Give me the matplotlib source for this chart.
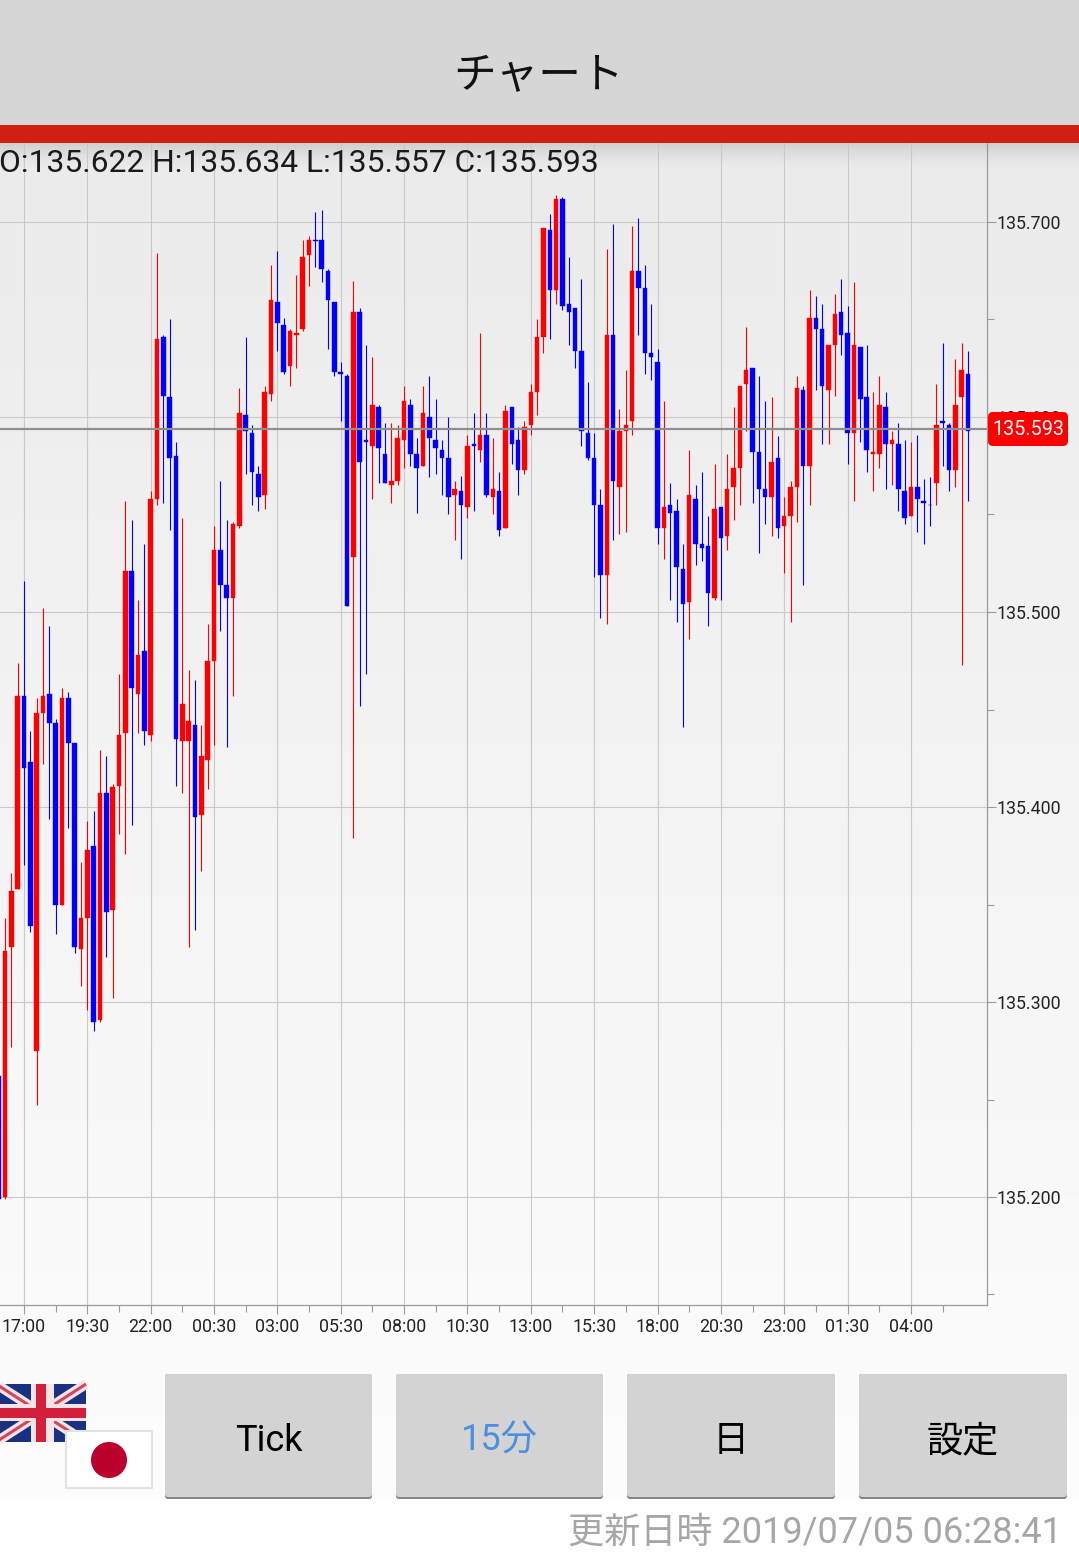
import numpy as np
import matplotlib
matplotlib.use("Agg")
import matplotlib.pyplot as plt
from matplotlib.colors import LinearSegmentedColormap
from matplotlib.patches import FancyBboxPatch, Rectangle, Circle

plt.rcParams['font.family'] = ['Roboto', 'Noto Sans CJK JP', 'DejaVu Sans']

# 15 minute candles, oldest first (first four are left of the 17:00 tick)
opens = [135.262, 135.200, 135.328, 135.358, 135.457, 135.423, 135.275, 135.448, 135.458, 135.443,
         135.350, 135.456, 135.433, 135.327, 135.343, 135.380, 135.291, 135.407, 135.347, 135.411,
         135.438, 135.521, 135.458, 135.480, 135.437, 135.558, 135.641, 135.610, 135.580, 135.434,
         135.434, 135.442, 135.396, 135.424, 135.475, 135.532, 135.514, 135.507, 135.544, 135.601,
         135.592, 135.571, 135.560, 135.612, 135.659, 135.647, 135.626, 135.642, 135.645, 135.683,
         135.691, 135.691, 135.675, 135.659, 135.623, 135.621, 135.528, 135.654, 135.588, 135.585,
         135.605, 135.581, 135.565, 135.567, 135.588, 135.606, 135.581, 135.575, 135.600, 135.588,
         135.583, 135.579, 135.560, 135.562, 135.554, 135.586, 135.583, 135.591, 135.559, 135.562,
         135.543, 135.605, 135.588, 135.573, 135.596, 135.613, 135.641, 135.696, 135.665, 135.712,
         135.658, 135.656, 135.634, 135.592, 135.579, 135.555, 135.519, 135.642, 135.564, 135.593,
         135.598, 135.675, 135.666, 135.633, 135.628, 135.543, 135.555, 135.552, 135.522, 135.505,
         135.558, 135.535, 135.534, 135.507, 135.554, 135.539, 135.564, 135.574, 135.617, 135.625,
         135.582, 135.563, 135.559, 135.579, 135.544, 135.549, 135.564, 135.614, 135.575, 135.651,
         135.645, 135.614, 135.637, 135.654, 135.643, 135.592, 135.636, 135.610, 135.581, 135.581,
         135.605, 135.586, 135.586, 135.562, 135.549, 135.564, 135.557, 135.555, 135.566, 135.598,
         135.596, 135.573, 135.610, 135.622]
highs = [135.270, 135.343, 135.366, 135.474, 135.516, 135.439, 135.456, 135.502, 135.493, 135.445,
         135.461, 135.459, 135.433, 135.372, 135.393, 135.398, 135.429, 135.426, 135.412, 135.468,
         135.557, 135.547, 135.506, 135.535, 135.562, 135.684, 135.642, 135.650, 135.587, 135.548,
         135.470, 135.465, 135.442, 135.494, 135.544, 135.567, 135.547, 135.546, 135.615, 135.641,
         135.596, 135.575, 135.616, 135.678, 135.685, 135.651, 135.645, 135.673, 135.691, 135.693,
         135.705, 135.706, 135.676, 135.659, 135.628, 135.622, 135.670, 135.656, 135.637, 135.631,
         135.606, 135.597, 135.597, 135.596, 135.616, 135.609, 135.589, 135.616, 135.621, 135.609,
         135.588, 135.600, 135.567, 135.570, 135.591, 135.602, 135.643, 135.602, 135.589, 135.572,
         135.606, 135.605, 135.595, 135.598, 135.617, 135.650, 135.697, 135.704, 135.714, 135.713,
         135.682, 135.656, 135.671, 135.618, 135.592, 135.563, 135.686, 135.699, 135.604, 135.624,
         135.698, 135.702, 135.678, 135.658, 135.635, 135.608, 135.566, 135.558, 135.535, 135.583,
         135.565, 135.572, 135.549, 135.576, 135.554, 135.581, 135.605, 135.616, 135.646, 135.625,
         135.621, 135.608, 135.610, 135.590, 135.559, 135.567, 135.621, 135.616, 135.665, 135.662,
         135.658, 135.637, 135.663, 135.671, 135.657, 135.669, 135.636, 135.637, 135.613, 135.621,
         135.613, 135.593, 135.597, 135.588, 135.587, 135.591, 135.568, 135.569, 135.617, 135.638,
         135.597, 135.630, 135.638, 135.634]
lows = [135.197, 135.199, 135.277, 135.358, 135.370, 135.336, 135.247, 135.422, 135.394, 135.335,
        135.350, 135.389, 135.325, 135.308, 135.296, 135.285, 135.290, 135.323, 135.302, 135.386,
        135.376, 135.391, 135.438, 135.432, 135.434, 135.555, 135.556, 135.542, 135.411, 135.407,
        135.328, 135.337, 135.367, 135.409, 135.432, 135.490, 135.431, 135.457, 135.543, 135.571,
        135.555, 135.552, 135.553, 135.608, 135.634, 135.622, 135.616, 135.625, 135.644, 135.667,
        135.677, 135.669, 135.635, 135.621, 135.598, 135.503, 135.384, 135.452, 135.468, 135.558,
        135.566, 135.566, 135.556, 135.565, 135.574, 135.575, 135.551, 135.575, 135.569, 135.571,
        135.560, 135.550, 135.537, 135.527, 135.548, 135.552, 135.577, 135.559, 135.550, 135.539,
        135.543, 135.576, 135.560, 135.571, 135.591, 135.601, 135.633, 135.640, 135.658, 135.655,
        135.637, 135.625, 135.585, 135.578, 135.518, 135.497, 135.494, 135.537, 135.540, 135.541,
        135.591, 135.642, 135.622, 135.619, 135.535, 135.527, 135.506, 135.495, 135.441, 135.486,
        135.524, 135.526, 135.493, 135.506, 135.506, 135.532, 135.547, 135.555, 135.593, 135.556,
        135.530, 135.545, 135.539, 135.538, 135.520, 135.495, 135.546, 135.514, 135.555, 135.614,
        135.586, 135.586, 135.611, 135.632, 135.576, 135.557, 135.587, 135.572, 135.562, 135.574,
        135.563, 135.565, 135.552, 135.545, 135.549, 135.541, 135.535, 135.544, 135.555, 135.575,
        135.562, 135.564, 135.473, 135.557]
closes = [135.199, 135.326, 135.357, 135.457, 135.420, 135.339, 135.448, 135.457, 135.443, 135.350,
          135.456, 135.433, 135.328, 135.343, 135.378, 135.290, 135.407, 135.346, 135.410, 135.437,
          135.521, 135.461, 135.478, 135.439, 135.558, 135.640, 135.611, 135.579, 135.435, 135.453,
          135.444, 135.395, 135.426, 135.475, 135.532, 135.514, 135.507, 135.545, 135.602, 135.593,
          135.572, 135.559, 135.613, 135.660, 135.648, 135.623, 135.644, 135.643, 135.682, 135.691,
          135.690, 135.676, 135.660, 135.623, 135.622, 135.503, 135.654, 135.577, 135.587, 135.606,
          135.584, 135.566, 135.567, 135.589, 135.608, 135.581, 135.574, 135.602, 135.589, 135.584,
          135.579, 135.559, 135.563, 135.555, 135.585, 135.585, 135.591, 135.560, 135.563, 135.542,
          135.603, 135.586, 135.573, 135.595, 135.613, 135.641, 135.697, 135.665, 135.712, 135.657,
          135.654, 135.634, 135.593, 135.579, 135.555, 135.519, 135.642, 135.567, 135.593, 135.596,
          135.675, 135.666, 135.633, 135.631, 135.543, 135.554, 135.551, 135.523, 135.504, 135.560,
          135.535, 135.533, 135.510, 135.553, 135.538, 135.563, 135.574, 135.616, 135.624, 135.582,
          135.563, 135.559, 135.577, 135.543, 135.549, 135.564, 135.615, 135.575, 135.651, 135.645,
          135.616, 135.637, 135.653, 135.642, 135.592, 135.637, 135.609, 135.583, 135.582, 135.606,
          135.586, 135.588, 135.563, 135.548, 135.564, 135.558, 135.556, 135.555, 135.596, 135.597,
          135.573, 135.606, 135.624, 135.593]

time_labels = ['17:00', '19:30', '22:00', '00:30', '03:00', '05:30', '08:00', '10:30',
               '13:00', '15:30', '18:00', '20:30', '23:00', '01:30', '04:00']
price_ticks = [135.2, 135.3, 135.4, 135.5, 135.6, 135.7]
price_minor = [135.15, 135.25, 135.35, 135.45, 135.55, 135.65]
last_price = 135.593
last_line = 135.594
ohlc_text = 'O:135.622 H:135.634 L:135.557 C:135.593'
button_labels = ['Tick', '15分', '日', '設定']
update_text = '更新日時 2019/07/05 06:28:41'

W, H = 1079, 1556
CANDLE_PX = 6.335
fig = plt.figure(figsize=(W / 100, H / 100), dpi=100, facecolor='white')


def pixel_axes(z):
    a = fig.add_axes([0, 0, 1, 1], zorder=z)
    a.set_xlim(0, W)
    a.set_ylim(H, 0)
    a.axis('off')
    return a


#-----------------------------------------------------------------------------------------------
# screen chrome behind the chart
ui = pixel_axes(0)
grad = np.linspace(0, 1, 256).reshape(-1, 1)
ui.imshow(grad, extent=(0, W, 1500, 143), cmap=LinearSegmentedColormap.from_list('bg', ['#ebebeb', '#fdfdfd']),
          aspect='auto', zorder=0)
shadow = np.zeros((64, 1, 4))
shadow[:, 0, :3] = 0.4
shadow[:, 0, 3] = np.linspace(0.35, 0, 64) ** 1.5
ui.imshow(shadow, extent=(0, W, 170, 143), aspect='auto', zorder=1)
ui.set_xlim(0, W)
ui.set_ylim(H, 0)
ui.add_patch(Rectangle((0, 0), W, 126, color='#d6d6d6', lw=0, zorder=2))
ui.add_patch(Rectangle((0, 125), W, 18, color='#d01f13', lw=0, zorder=3))
ui.text(538, 77, 'チャート', fontsize=30.7, ha='center', va='center', color='#111111', zorder=4)

#-----------------------------------------------------------------------------------------------
# chart
x = np.arange(len(opens)) - 4
o, h, l, c = map(np.array, (opens, highs, lows, closes))
colors = np.where(c > o, '#ff0000', '#0000ff')

ax = fig.add_axes([0, (H - 1305) / H, 987 / W, (1305 - 143) / H], zorder=1)
ax.patch.set_alpha(0)
ax.set_xlim(-24.0 / CANDLE_PX, (987 - 24.0) / CANDLE_PX)
ax.set_ylim(135.7 - 1083 / 1950, 135.7 + 79 / 1950)

ax.vlines(x, l, h, colors=colors, linewidth=0.8, zorder=3)
ax.bar(x, np.abs(c - o), bottom=np.minimum(o, c), width=0.72, color=colors,
       edgecolor=colors, linewidth=0.3, zorder=4)
ax.axhline(last_line, color='#8f8f8f', linewidth=1.6, zorder=5)

tick_pos = np.arange(len(time_labels)) * 10
ax.set_xticks(tick_pos)
ax.set_xticklabels(time_labels)
ax.set_xticks(tick_pos + 5, minor=True)
ax.set_yticks(price_ticks)
ax.set_yticklabels(['%.3f' % p for p in price_ticks])
ax.set_yticks(price_minor, minor=True)
ax.yaxis.tick_right()
ax.grid(True, which='major', color='#c9c9c9', linewidth=0.8, zorder=1)
ax.set_axisbelow(True)
for s in ['top', 'left']:
    ax.spines[s].set_visible(False)
for s in ['right', 'bottom']:
    ax.spines[s].set_color('#9a9a9a')
    ax.spines[s].set_linewidth(0.9)
ax.tick_params(which='major', length=6.5, width=0.8, color='#9a9a9a', labelsize=12.8,
               labelcolor='#222222')
ax.tick_params(which='minor', length=5, width=0.8, color='#9a9a9a')
ax.tick_params(axis='y', which='major', pad=0.2)
ax.tick_params(axis='x', which='major', pad=2.5)

#-----------------------------------------------------------------------------------------------
# everything on top of the chart
top = pixel_axes(2)
top.text(-1, 163.5, ohlc_text, fontsize=22.9, ha='left', va='center', color='#1a1a1a', zorder=4)
top.add_patch(FancyBboxPatch((991, 415), 74, 28, boxstyle='round,pad=3,rounding_size=5',
                             facecolor='#ff0000', edgecolor='none', zorder=2))
top.text(1028, 429.5, '%.3f' % last_price, fontsize=14.2, color='white', ha='center', va='center', zorder=3)

# buttons
button_x = [(165, 372), (396, 603), (627, 835), (859, 1067)]
button_colors = ['#000000', '#4a90e2', '#000000', '#000000']
for (x0, x1), label, col in zip(button_x, button_labels, button_colors):
    top.add_patch(FancyBboxPatch((x0 + 2, 1376), x1 - x0 - 4, 121, boxstyle='round,pad=2,rounding_size=3',
                                 facecolor='#858585', edgecolor='none', zorder=1))
    top.add_patch(FancyBboxPatch((x0 + 2, 1376), x1 - x0 - 4, 119, boxstyle='round,pad=2,rounding_size=3',
                                 facecolor='#d3d3d3', edgecolor='none', zorder=2))
    top.text((x0 + x1) / 2, 1441, label, fontsize=26, color=col, ha='center', va='center', zorder=3)

top.text(1062, 1533, update_text, fontsize=26, color='#a6a6a6', ha='right', va='center')

# flags
fx0, fx1, fy0, fy1 = -4, 86, 1384, 1442
top.add_patch(Rectangle((fx0, fy0), fx1 - fx0, fy1 - fy0, color='#1a3080', lw=0, zorder=1))
for a, b in [((fx0, fy0), (fx1, fy1)), ((fx0, fy1), (fx1, fy0))]:
    top.plot([a[0], b[0]], [a[1], b[1]], color='#f5e4e6', lw=7, solid_capstyle='butt', zorder=2)
    top.plot([a[0], b[0]], [a[1], b[1]], color='#d8435a', lw=2.2, solid_capstyle='butt', zorder=3)
top.add_patch(Rectangle((fx0, 1404), fx1 - fx0, 17, color='#f5e4e6', lw=0, zorder=4))
top.add_patch(Rectangle((31, fy0), 23, fy1 - fy0, color='#f5e4e6', lw=0, zorder=4))
top.add_patch(Rectangle((fx0, 1408), fx1 - fx0, 9.5, color='#d3203a', lw=0, zorder=5))
top.add_patch(Rectangle((36, fy0), 9.5, fy1 - fy0, color='#d3203a', lw=0, zorder=5))
top.add_patch(Rectangle((66, 1431), 86, 57, facecolor='white', edgecolor='#e2e2e2', lw=1.5, zorder=6))
top.add_patch(Circle((109, 1460), 18, color='#bc002d', lw=0, zorder=7))
top.set_xlim(0, W)
top.set_ylim(H, 0)

fig.savefig('out.png', dpi=100)
